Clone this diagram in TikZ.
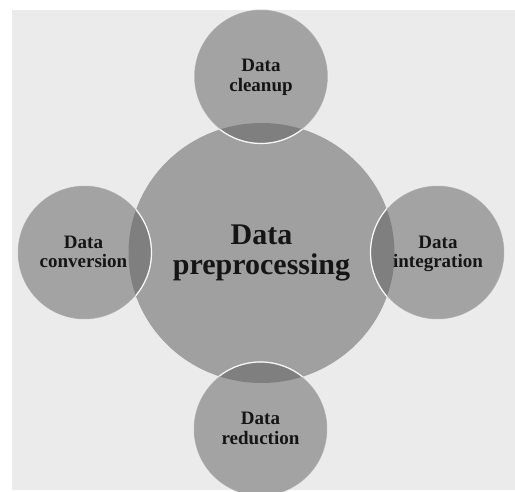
\documentclass[tikz,border=0pt]{standalone}
\usepackage{fontspec}
\setmainfont{Liberation Serif}
\definecolor{bgc}{HTML}{EBEBEB}
\definecolor{circc}{HTML}{A3A3A3}
\definecolor{bigc}{HTML}{A0A0A0}
\definecolor{overc}{HTML}{7F7F7F}
\definecolor{txtc}{HTML}{151515}
\tikzset{
  smalltxt/.style={align=center, inner sep=0pt, text=txtc,
    font=\fontsize{19}{19.5}\selectfont\bfseries},
  bigtxt/.style={align=center, inner sep=0pt, text=txtc,
    font=\fontsize{30}{30}\selectfont\bfseries},
  rim/.style={draw=white, line width=1pt, draw opacity=0.45},
  rimin/.style={draw=white, line width=1.2pt, draw opacity=0.9}
}
\begin{document}
\begin{tikzpicture}[x=1pt,y=-1pt]
\useasboundingbox (0,0) rectangle (515,492);
\clip (0,0) rectangle (515,492);
\fill[bgc] (12,10) rectangle (515,490);
% centres
\coordinate (cC) at (261.5,253);
\coordinate (cT) at (261,76.5);
\coordinate (cL) at (84.5,252.5);
\coordinate (cR) at (437.5,252.5);
\coordinate (cB) at (260.5,429);
% big circle
\fill[bigc] (cC) ellipse [x radius=133, y radius=130];
% small circles
\foreach \c in {cT,cL,cR,cB}{
  \fill[circc] (\c) circle [radius=67];
}
% overlaps
\begin{scope}
  \clip (cC) ellipse [x radius=133, y radius=130];
  \foreach \c in {cT,cL,cR,cB}{
    \fill[overc] (\c) circle [radius=67];
  }
  \foreach \c in {cT,cL,cR,cB}{
    \draw[rimin] (\c) circle [radius=67];
  }
\end{scope}
\foreach \c in {cT,cL,cR,cB}{
  \draw[rim] (\c) circle [radius=67];
}
% texts
\node[bigtxt] (main) at (261.5,254) {\strut Data\\\strut preprocessing};
\node[smalltxt] (clean) at (261,77.8) {\strut Data\\\strut cleanup};
\node[smalltxt] (conv) at (83.5,254) {\strut Data\\\strut conversion};
\node[smalltxt] (integ) at (438,254) {\strut Data\\\strut integration};
\node[smalltxt] (reduc) at (260.5,430.8) {\strut Data\\\strut reduction};
\end{tikzpicture}
\end{document}
